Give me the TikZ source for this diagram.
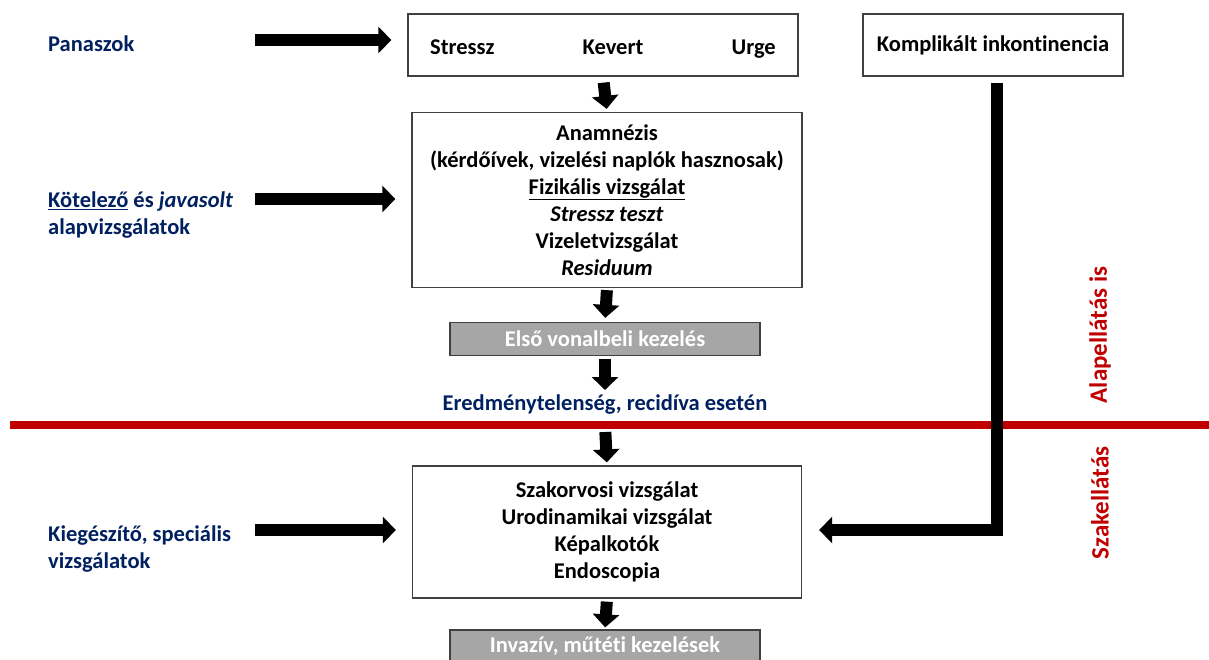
\documentclass[tikz,border=0pt]{standalone}
\usepackage{fontspec}
\setmainfont[RawFeature={-liga;-clig;-calt;-dlig}]{Carlito}
\usetikzlibrary{arrows.meta}
\definecolor{navy}{RGB}{0,32,96}
\definecolor{darkred}{RGB}{192,0,0}
\definecolor{boxgray}{RGB}{166,166,166}
\tikzset{
    box/.style={draw=black!75, line width=1.3pt, fill=white},
    graybox/.style={draw=black!75, line width=1.3pt, fill=boxgray, text=white,
        minimum width=310pt, minimum height=33pt},
    txt/.style={font=\fontsize{22.5}{27}\selectfont\bfseries, inner sep=0pt},
    lbl/.style={txt, text=navy, align=left, anchor=west},
    side/.style={txt, font=\fontsize{25}{30}\selectfont\bfseries, text=darkred, rotate=90},
    blockarrow/.style={line width=12pt, -{Triangle[width=26pt,length=13pt]}},
    redline/.style={draw=darkred, line width=8pt},
}
\begin{document}
\begin{tikzpicture}[x=1pt,y=-1pt]
        \useasboundingbox (0,0) rectangle (1209,659);
        % boxes
        \node[box, minimum width=390pt, minimum height=62pt](tipus) at (603,45) {};
        \node[txt, anchor=base west](stressz) at (430,54) {Stressz};
        \node[txt, anchor=base](kevert) at (613,54) {Kevert};
        \node[txt, anchor=base east](urge) at (776,54) {Urge};
        \node[box, txt, minimum width=260pt, minimum height=62pt](kompl) at (993,45) {Komplikált inkontinencia};
        \node[box, txt, align=center, minimum width=390pt, minimum height=175pt](anam) at (607,200)
            {Anamnézis\\(kérdőívek, vizelési naplók hasznosak)\\\underline{Fizikális vizsgálat}\\
             \textit{Stressz teszt}\\Vizeletvizsgálat\\\textit{Residuum}};
        \node[graybox, txt](elso) at (605,339) {Első vonalbeli kezelés};
        \node[txt, text=navy](eredm) at (605,405) {Eredménytelenség, recidíva esetén};
        \node[box, txt, align=center, minimum width=389pt, minimum height=132pt](szak) at (607,532)
            {Szakorvosi vizsgálat\\Urodinamikai vizsgálat\\Képalkotók\\Endoscopia};
        \node[graybox, minimum height=40pt](invaz) at (605,650) {};
        \node[txt, text=white](invazt) at (605,646) {Invazív, műtéti kezelések};
        % left labels
        \node[lbl](panasz) at (48,44) {Panaszok};
        \node[lbl](kotel) at (48,215) {\underline{Kötelező} és \textit{javasolt}\\alapvizsgálatok};
        \node[lbl](kieg) at (48,549) {Kiegészítő, speciális\\vizsgálatok};
        \node[side](alap) at (1100,335) {Alapellátás is};
        \node[side](szakell) at (1100,503) {Szakellátás};
        \coordinate (p1) at (255,40);
        \coordinate (p2) at (255,199);
        \coordinate (p3) at (255,530);
        % red border
        \draw[redline] (10,425) -- (1209,425);
        % arrows
        \draw[blockarrow, shorten >=16pt] (p1) -- (p1 -| tipus.west);
        \draw[blockarrow, shorten >=16pt] (p2) -- (p2 -| anam.west);
        \draw[blockarrow, shorten >=16pt] (p3) -- (p3 -| szak.west);
        \draw[blockarrow, shorten <=6pt, shorten >=3pt] (tipus.south) -- (anam.north);
        \draw[blockarrow, shorten <=2pt, shorten >=4pt] (anam.south) -- (elso.north);
        \draw[blockarrow, shorten <=3pt, shorten >=5pt] (elso.south) -- (eredm.north);
        \draw[blockarrow, shorten <=7pt, shorten >=3pt] (605,425) -- (szak.north);
        \draw[blockarrow, shorten <=3pt, shorten >=2pt] (szak.south) -- (invaz.north);
        \draw[blockarrow, shorten <=6pt, shorten >=17pt]
            ([xshift=4pt]kompl.south) |- ([yshift=2pt]szak.east);
\end{tikzpicture}
\end{document}
